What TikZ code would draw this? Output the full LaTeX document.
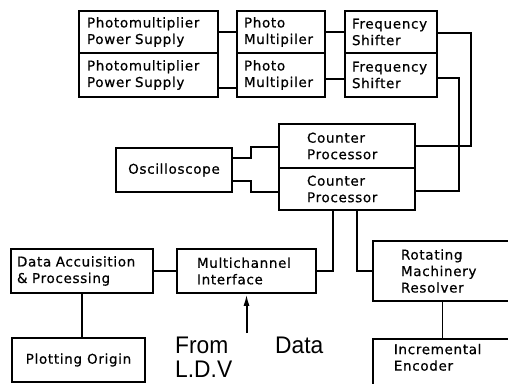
\documentclass[tikz,border=0pt]{standalone}
\usepackage{fontspec}
\setmainfont{DejaVu Sans}
\newfontfamily\boxfont{DejaVu Sans}[LetterSpace=5,FakeBold=0.6]
\newfontfamily\bigfont{Liberation Sans}[FakeStretch=0.95]
\usetikzlibrary{arrows.meta}
\begin{document}
\begin{tikzpicture}[x=1pt,y=-1pt,
  box/.style={draw, line width=1.7pt, inner ysep=0pt, align=left,
    font=\boxfont\fontsize{13.5}{16.5}\selectfont},
  cbox/.style={draw, line width=1.7pt, inner sep=0pt, align=center,
    font=\boxfont\fontsize{13.5}{16.5}\selectfont},
  wire/.style={line width=1.4pt},
  bigtxt/.style={inner sep=0pt, anchor=base west, align=left, font=\bigfont\fontsize{24}{24}\selectfont}]
\useasboundingbox (0,0) rectangle (508,383);
\clip (0,0) rectangle (508,383);
% top row
\node[box, minimum width=139pt, minimum height=42pt, text width=123pt, inner xsep=8pt] (ps1) at (148.5,32) {Photomultiplier\\Power Supply};
\node[box, minimum width=139pt, minimum height=44pt, text width=123pt, inner xsep=8pt] (ps2) at (148.5,75) {Photomultiplier\\Power Supply};
\node[box, minimum width=88pt, minimum height=42pt, text width=74pt, inner xsep=7pt] (pm1) at (281,32) {Photo\\Multipiler};
\node[box, minimum width=88pt, minimum height=44pt, text width=74pt, inner xsep=7pt] (pm2) at (281,75) {Photo\\Multipiler};
\node[box, minimum width=92pt, minimum height=42pt, text width=78pt, inner xsep=7pt] (fs1) at (391,32) {Frequency\\Shifter};
\node[box, minimum width=92pt, minimum height=44pt, text width=78pt, inner xsep=7pt] (fs2) at (391,75) {Frequency\\Shifter};
% counter processors
\node[box, minimum width=136pt, minimum height=44pt, text width=80pt, inner xsep=28pt] (cp1) at (347,146) {Counter\\Processor};
\node[box, minimum width=136pt, minimum height=42pt, text width=80pt, inner xsep=28pt] (cp2) at (347,189) {Counter\\Processor};
\node[cbox, minimum width=116pt, minimum height=44pt] (osc) at (174,170) {Oscilloscope};
% bottom
\node[box, minimum width=142pt, minimum height=44pt, text width=130pt, inner xsep=6pt] (data) at (82,271) {Data Accuisition\\\& Processing};
\node[box, minimum width=139pt, minimum height=44pt, text width=99pt, inner xsep=20pt] (mi) at (246.5,271) {Multichannel\\Interface};
\node[cbox, minimum width=133pt, minimum height=44pt] (plot) at (78.5,360) {Plotting Origin};
\node[box, minimum width=139pt, minimum height=60pt, text width=83pt, inner xsep=28pt] (rmr) at (442.5,271) {Rotating\\Machinery\\Resolver};
\node[draw, line width=1.7pt, inner sep=0pt, minimum width=139pt, minimum height=50pt] (incr) at (442.5,364) {};
\node[box, draw=none, inner xsep=0pt, anchor=north west] (incrt) at (393,343) {Incremental\\Encoder};
% text
\node[bigtxt] (from) at (175,377) {From\\L.D.V};
\node[bigtxt] (datat) at (275,353) {Data};
\coordinate (arrowstart) at (246.5,333);
% connectors
\draw[wire] (ps1.east) -- (pm1.west);
\draw[wire] ([yshift=-13pt]ps2.east) -- ([yshift=-13pt]pm2.west);
\draw[wire] (pm1.east) -- (fs1.west);
\draw[wire] ([yshift=-4pt]pm2.east) -- ([yshift=-4pt]fs2.west);
\draw[wire] ([yshift=-1pt]fs1.east) -- ++(33,0) |- (cp1.east);
\draw[wire] ([yshift=-3pt]fs2.east) -- ++(21,0) |- ([yshift=-2pt]cp2.east);
\draw[wire] ([yshift=12pt]osc.east) -- ++(18,0) |- ([yshift=-1pt]cp1.west);
\draw[wire] ([yshift=-11pt]osc.east) -- ++(18,0) |- ([yshift=-3pt]cp2.west);
\draw[wire] ([xshift=-14pt]cp2.south) |- (mi.east);
\draw[wire] ([xshift=10pt]cp2.south) |- (rmr.west);
\draw[wire] (data.east) -- (mi.west);
\draw[wire] (data.south) -- (data.south |- plot.north);
\draw[wire] (rmr.south) -- (incr.north);
\draw[line width=2pt, -{Latex[length=12pt,width=6pt]}] (arrowstart) -- (mi.south);
\end{tikzpicture}
\end{document}
